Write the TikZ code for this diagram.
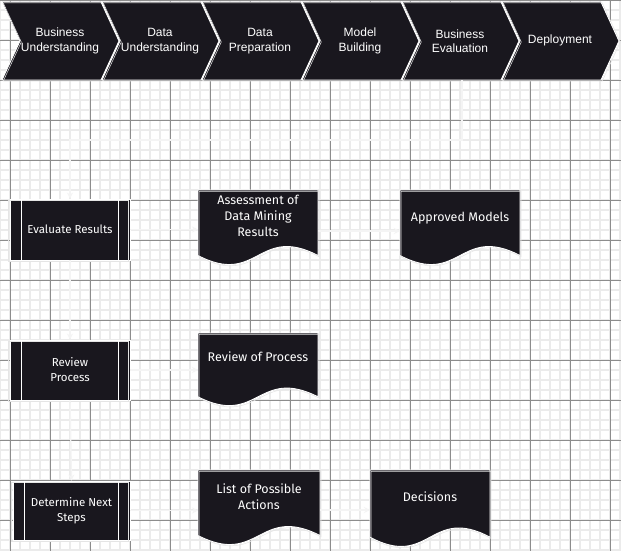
\documentclass[tikz,border=0pt]{standalone}
\usepackage{fontspec}
\setmainfont{Liberation Sans}
\newfontfamily\hand{Fira Sans}
\usetikzlibrary{arrows.meta,calc}
\definecolor{ink}{HTML}{19171E}
\definecolor{minorg}{HTML}{EBEBEB}
\definecolor{majorg}{HTML}{8C8C8C}
\definecolor{connc}{HTML}{F4F4F4}
\tikzset{
  chevshape/.style={fill=ink,draw=white,line width=0.9pt,line join=round,
    postaction={draw=white!80!gray,line width=0.5pt,transform canvas={xshift=1.3pt,yshift=-1pt}}},
  chevtext/.style={text=white,align=center,font=\fontsize{12}{14.5}\selectfont},
  proc/.style={fill=ink,draw=white,line width=0.9pt,minimum width=120pt,inner sep=2pt,
    text=white,align=center,font=\hand\fontsize{11.5}{15}\selectfont,
    postaction={draw=white!80!gray,line width=0.5pt,transform canvas={xshift=-1.5pt,yshift=-1.2pt}}},
  docshape/.style={fill=ink,draw=white,line width=0.9pt,line join=round,
    postaction={draw=white!80!gray,line width=0.5pt,transform canvas={xshift=1.2pt,yshift=-1.3pt}}},
  doctext/.style={text=white,align=center,font=\hand\fontsize{12.5}{16}\selectfont},
  connector/.style={draw=connc,line width=1.4pt,-{Stealth[length=6pt,width=6pt]}},
}
\newcommand\mkdoc[7]{% name, x0, y0, w, h, text, text y
  \pgfmathsetmacro\xa{#2}\pgfmathsetmacro\ya{#3}
  \pgfmathsetmacro\xb{#2+#4}\pgfmathsetmacro\yb{#3+0.84*#5}
  \pgfmathsetmacro\xm{#2+0.5*#4}
  \pgfmathsetmacro\ylo{#3+0.84*#5+0.4*#5}\pgfmathsetmacro\yhi{#3+0.84*#5-0.4*#5}
  \pgfmathsetmacro\yc{#3+0.5*#5}
  \path[docshape] (\xa,\ya) -- (\xb,\ya) -- (\xb,\yb) .. controls (\xm,\yhi) and (\xm,\ylo) .. (\xa,\yb) -- cycle;
  \node[minimum width=#4 pt,minimum height=#5 pt,inner sep=0pt,outer sep=0pt] (#1) at (\xm,\yc) {};
  \node[doctext] (#1t) at (\xm,#7) {#6};
}
\begin{document}
\begin{tikzpicture}[x=1pt,y=-1pt]
\useasboundingbox (0,0) rectangle (621,551);
\fill[white] (0,0) rectangle (621,551);
% grid
\foreach \i in {0,10,...,620} \draw[minorg,line width=1.6pt] (\i,0) -- (\i,551);
\foreach \j in {0,10,...,550} \draw[minorg,line width=1.6pt] (0,\j) -- (621,\j);
\foreach \i in {10,50,...,610} \draw[majorg,line width=0.8pt] (\i,0) -- (\i,551);
\foreach \j in {0,40,...,540} \draw[majorg,line width=0.8pt] (0,\j) -- (621,\j);
% chevrons
\foreach \n in {0,...,5} {
  \pgfmathsetmacro\xo{100*\n}
  \path[chevshape] (\xo+2,2) -- (\xo+101,2) -- (\xo+119,41) -- (\xo+101,80) -- (\xo+2,80) -- (\xo+20,41) -- cycle;
}
\node[chevtext] (bu) at (60,41) {Business\\Understanding};
\node[chevtext] (du) at (160,41) {Data\\Understanding};
\node[chevtext] (dp) at (260,41) {Data\\Preparation};
\node[chevtext] (mb) at (360,41) {Model\\Building};
\node[chevtext] (be) at (460,41) {Business\\Evaluation};
\node[chevtext] (de) at (560,40) {Deployment};
\coordinate (beb) at (462,80);
% process boxes
\node[proc,minimum height=61pt] (er) at (70,229.5) {Evaluate Results};
\node[proc,minimum height=60pt] (rp) at (70,370) {Review\\Process};
\node[proc,minimum height=59pt,minimum width=117pt] (dn) at (71.5,510.5) {Determine Next\\Steps};
\foreach \b in {er,rp,dn} {
  \draw[white,line width=0.8pt] ($(\b.north west)+(12,0)$) -- ($(\b.south west)+(12,0)$);
  \draw[white,line width=0.8pt] ($(\b.north east)+(-12,0)$) -- ($(\b.south east)+(-12,0)$);
}
% documents
\mkdoc{adm}{198}{190}{120}{78}{Assessment of\\Data Mining\\Results}{216}
\mkdoc{am}{400}{190}{120}{78}{Approved Models}{218}
\mkdoc{rop}{198}{333}{120}{76}{Review of Process}{357}
\mkdoc{lpa}{198}{470}{122}{78}{List of Possible\\Actions}{497}
\mkdoc{dec}{370}{470}{120}{80}{Decisions}{497}
% connectors
\draw[connector] (beb) -- ++(0,60) -| (er.north);
\draw[connector] (er.east) -- (er.east -| adm.west);
\draw[connector] (adm.west |- 0,231) ++(120,0) -- (am.west |- 0,231);
\draw[connector] (er.south) -- (rp.north);
\draw[connector] (rp.east) -- (rp.east -| rop.west);
\draw[connector] (rp.south) -- (dn.north);
\draw[connector] (dn.east) -- (dn.east -| lpa.west);
\draw[connector] (lpa.east |- 0,510) -- (dec.west |- 0,510);
\end{tikzpicture}
\end{document}
